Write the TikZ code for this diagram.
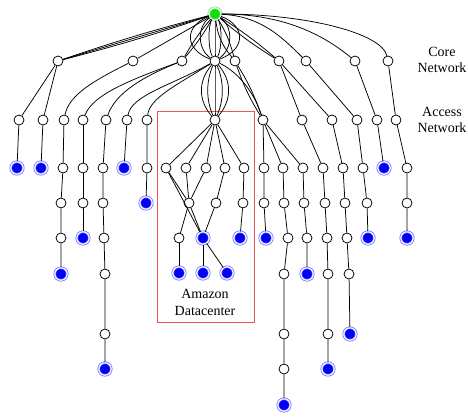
\documentclass[tikz,border=0pt]{standalone}
\usepackage{fontspec}
\setmainfont{Liberation Serif}
\definecolor{hostblue}{RGB}{0,0,245}
\definecolor{hostring}{RGB}{95,95,255}
\definecolor{srcgreen}{RGB}{10,225,10}
\definecolor{srcring}{RGB}{110,225,110}
\definecolor{dcred}{RGB}{240,85,85}
\begin{document}
\begin{tikzpicture}[x=1pt,y=-1pt,
  hop/.style={circle,draw=black,fill=white,line width=0.75pt,inner sep=0pt,minimum size=10pt},
  host/.style={circle,fill=hostblue,draw=hostring,double=white,double distance=1.2pt,
               line width=0.7pt,inner sep=0pt,minimum size=12.4pt},
  source/.style={host,fill=srcgreen,draw=srcring},
  link/.style={draw=black,line width=0.75pt},
  lbl/.style={font=\fontsize{14}{16.5}\selectfont,align=center,inner sep=0pt}
]
\useasboundingbox (0,0) rectangle (468,416);

% source
\node[source] (r) at (215,14) {};

% core routers
\foreach \n/\x in {c1/58,c2/133,c3/182,c4/215,c5/235,c6/279,c7/306,c8/355,c9/388}
  \node[hop] (\n) at (\x,61) {};

% access routers
\foreach \n/\x in {a1/19,a2/43,a3/64,a4/83,a5/106,a6/127,a7/147,a8/215,
                   a9/263,a10/302,a11/332,a12/357,a13/377,a14/396}
  \node[hop] (\n) at (\x,120) {};

% left branches
\node[host] (L1) at (17,168) {};
\node[host] (L2) at (41,168) {};
\node[hop] (p1) at (63,168) {};
\node[hop] (p2) at (61,203) {};
\node[hop] (p3) at (61,238) {};
\node[host] (L3) at (61,274) {};
\node[hop] (q1) at (83,168) {};
\node[hop] (q2) at (83,203) {};
\node[host] (L4) at (83,238) {};
\node[hop] (s1) at (103,168) {};
\node[hop] (s2) at (103,203) {};
\node[hop] (s3) at (104,238) {};
\node[hop] (s4) at (105,274) {};
\node[hop] (s5) at (105,334) {};
\node[host] (L5) at (105,369) {};
\node[host] (L6) at (124,168) {};
\node[hop] (t1) at (147,168) {};
\node[host] (L7) at (146,203) {};

% datacenter
\node[draw=dcred,line width=0.8pt,minimum width=97pt,minimum height=211pt,inner sep=0pt]
  (dcbox) at (205.5,216.5) {};
\node[lbl] (dclabel) at (205,302.5) {Amazon\\Datacenter};
\foreach \n/\x in {d1/166,d2/186,d3/206,d4/225,d5/244}
  \node[hop] (\n) at (\x,168) {};
\node[hop] (e1) at (189,203) {};
\node[hop] (e2) at (216,203) {};
\node[hop] (e3) at (243,203) {};
\node[hop] (f1) at (179,238) {};
\node[host] (f2) at (203,238) {};
\node[host] (f3) at (240,238) {};
\node[host] (g1) at (179,273) {};
\node[host] (g2) at (203,273) {};
\node[host] (g3) at (227,273) {};

% right branches
\node[hop] (u1) at (264,168) {};
\node[hop] (u2) at (264,203) {};
\node[host] (R1) at (266,238) {};
\node[hop] (v1) at (283,168) {};
\node[hop] (v2) at (284,203) {};
\node[hop] (v3) at (288,238) {};
\node[hop] (v4) at (284,274) {};
\node[hop] (v5) at (284,334) {};
\node[hop] (v6) at (284,369) {};
\node[host] (R2) at (284,405) {};
\node[hop] (w1) at (303,168) {};
\node[hop] (w2) at (304,203) {};
\node[hop] (w3) at (307,238) {};
\node[host] (R3) at (307,274) {};
\node[hop] (x1) at (323,168) {};
\node[hop] (x2) at (325,203) {};
\node[hop] (x3) at (327,238) {};
\node[hop] (x4) at (328,274) {};
\node[hop] (x5) at (328,334) {};
\node[host] (R4) at (328,369) {};
\node[hop] (y1) at (343,168) {};
\node[hop] (y2) at (345,203) {};
\node[hop] (y3) at (347,238) {};
\node[hop] (y4) at (349,274) {};
\node[host] (R5) at (350,334) {};
\node[hop] (z1) at (363,168) {};
\node[hop] (z2) at (367,203) {};
\node[host] (R6) at (368,238) {};
\node[host] (R7) at (384,168) {};
\node[hop] (h1) at (407,168) {};
\node[hop] (h2) at (407,203) {};
\node[host] (R8) at (407,238) {};

% tier labels
\node[lbl] (corelbl) at (442,60) {Core\\Network};
\node[lbl] (acclbl) at (442,120) {Access\\Network};

% source to core
\draw[link] (r) to[bend left=2] (c1);
\draw[link] (r) -- (c1);
\draw[link] (r) to[bend right=2] (c1);
\draw[link] (r) -- (c2);
\draw[link] (r) to[bend left=5] (c3);
\draw[link] (r) to[bend right=5] (c3);
\foreach \dx in {-31,-18,-7,0,7,18,31}
  \draw[link] (r) .. controls +(\dx,12) and +(\dx,-12) .. (c4);
\draw[link] (r) to[bend left=8] (c5);
\draw[link] (r) to[bend right=16] (c5);
\draw[link] (r) to[bend left=4] (c6);
\draw[link] (r) to[bend right=4] (c6);
\draw[link] (r) .. controls +(45,2) and +(-25,-25) .. (c7);
\draw[link] (r) .. controls +(70,0) and +(-30,-25) .. (c8);
\draw[link] (r) .. controls +(95,0) and +(-6,-27) .. (c9);

% core to access
\draw[link] (c1) -- (a1);
\draw[link] (c1) -- (a2);
\draw[link] (c2) .. controls +(-40,20) and +(5,-25) .. (a3);
\draw[link] (c3) .. controls +(-55,20) and +(10,-25) .. (a4);
\draw[link] (c3) .. controls +(-50,20) and +(8,-22) .. (a5);
\draw[link] (c4) .. controls +(-45,25) and +(5,-25) .. (a6);
\draw[link] (c4) .. controls +(-40,25) and +(3,-22) .. (a7);
\foreach \dx in {-17,-9,0,9,17}
  \draw[link] (c4) .. controls +(\dx,20) and +(\dx,-20) .. (a8);
\draw[link] (c4) .. controls +(25,12) and +(-8,-25) .. (a9);
\draw[link] (c5) to[bend left=6] (a9);
\draw[link] (c5) to[bend right=6] (a9);
\draw[link] (c6) -- (a10);
\draw[link] (c6) -- (a11);
\draw[link] (c7) -- (a12);
\draw[link] (c8) -- (a13);
\draw[link] (c9) -- (a14);

% left branches
\draw[link] (a1) -- (L1);
\draw[link] (a2) -- (L2);
\draw[link] (a3) -- (p1) -- (p2) -- (p3) -- (L3);
\draw[link] (a4) -- (q1) -- (q2) -- (L4);
\draw[link] (a5) -- (s1) -- (s2) -- (s3) -- (s4) -- (s5) -- (L5);
\draw[link] (a6) -- (L6);
\draw[link] (a7) -- (t1) -- (L7);

% datacenter links
\foreach \n in {d1,d2,d3,d4,d5}
  \draw[link] (a8) -- (\n);
\draw[link] (d1) -- (e1);
\draw[link] (d2) -- (e1);
\draw[link] (d3) -- (e1);
\draw[link] (d1) -- (f2);
\draw[link] (d4) -- (e2);
\draw[link] (d5) -- (e3);
\draw[link] (e1) -- (f1);
\draw[link] (e1) -- (f2);
\draw[link] (e2) -- (f2);
\draw[link] (e3) -- (f3);
\draw[link] (f1) -- (g1);
\draw[link] (f2) -- (g2);
\draw[link] (f2) -- (g3);

% right branches
\draw[link] (a9) -- (u1) -- (u2) -- (R1);
\draw[link] (a9) -- (v1) -- (v2) -- (v3) -- (v4) -- (v5) -- (v6) -- (R2);
\draw[link] (a9) -- (w1) -- (w2) -- (w3) -- (R3);
\draw[link] (a10) -- (x1) -- (x2) -- (x3) -- (x4) -- (x5) -- (R4);
\draw[link] (a11) -- (y1) -- (y2) -- (y3) -- (y4) -- (R5);
\draw[link] (a12) -- (z1) -- (z2) -- (R6);
\draw[link] (a13) -- (R7);
\draw[link] (a14) -- (h1) -- (h2) -- (R8);
\end{tikzpicture}
\end{document}
